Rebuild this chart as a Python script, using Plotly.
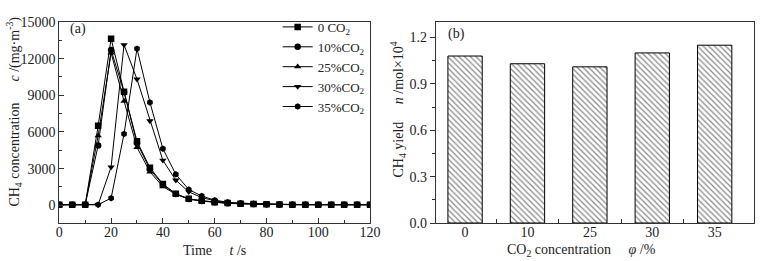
import plotly.graph_objects as go

# ---- data ----
time_s = [0, 5, 10, 15, 20, 25, 30, 35, 40, 45, 50, 55, 60, 65, 70, 75, 80, 85, 90, 95, 100, 105, 110, 115, 120]
c_0 = [50, 50, 50, 6500, 13630, 9300, 5240, 3080, 1740, 950, 530, 370, 250, 180, 130, 100, 80, 60, 50, 50, 50, 50, 50, 50, 50]
c_10 = [50, 50, 50, 4900, 12710, 9250, 5100, 2950, 1680, 920, 520, 360, 240, 170, 130, 100, 80, 60, 50, 50, 50, 50, 50, 50, 50]
c_25 = [50, 50, 50, 5700, 12470, 8530, 4740, 2740, 1530, 900, 500, 340, 220, 160, 120, 100, 80, 60, 50, 50, 50, 50, 50, 50, 50]
c_30 = [50, 50, 50, 50, 3130, 13130, 10320, 6900, 3680, 2050, 1100, 630, 370, 210, 150, 110, 90, 70, 50, 50, 50, 50, 50, 50, 50]
c_35 = [50, 50, 50, 50, 580, 5840, 12820, 8420, 4630, 2530, 1290, 760, 420, 250, 170, 120, 90, 70, 50, 50, 50, 50, 50, 50, 50]
series_names = ["0 CO<sub>2</sub>", "10%CO<sub>2</sub>", "25%CO<sub>2</sub>", "30%CO<sub>2</sub>", "35%CO<sub>2</sub>"]
series_values = [c_0, c_10, c_25, c_30, c_35]
series_symbols = ["square", "circle", "triangle-up", "triangle-down", "hexagon"]

co2_labels = ["0", "10", "25", "30", "35"]
yield_values = [1.08, 1.03, 1.01, 1.10, 1.15]

FONT = "Liberation Serif, Times New Roman, serif"
AX = "#333333"
TXT = "#222222"

fig = go.Figure()
for name, vals, sym in zip(series_names, series_values, series_symbols):
    fig.add_trace(go.Scatter(
        x=time_s, y=vals, name=name, mode="lines+markers",
        line=dict(color="black", width=1),
        marker=dict(symbol=sym, size=6.5, color="black"),
        xaxis="x", yaxis="y"))

fig.add_trace(go.Bar(
    x=list(range(len(co2_labels))), y=yield_values, width=0.55,
    marker=dict(color="white", line=dict(color="black", width=1),
                pattern=dict(shape="\\", fgcolor="#111111", bgcolor="white", size=4, solidity=0.3)),
    showlegend=False, xaxis="x2", yaxis="y2"))

W, H = 777, 261
ml, mr, mt, mb = 59, 12, 15, 38
pw = W - ml - mr
ph = H - mt - mb

def dom(a, b):
    return [(a - ml) / pw, (b - ml) / pw]

common = dict(showline=True, linecolor=AX, linewidth=1, mirror=True, showgrid=False, zeroline=False,
              tickfont=dict(family=FONT, size=14, color=TXT), tickcolor=AX)

fig.update_layout(
    width=W, height=H, margin=dict(l=ml, r=mr, t=mt, b=mb),
    paper_bgcolor="white", plot_bgcolor="white",
    font=dict(family=FONT, size=14, color=TXT),
    xaxis=dict(domain=dom(59.3, 375), range=[0, 120], tickmode="linear", tick0=0, dtick=20,
               ticks="inside", ticklen=5, ticklabelstandoff=-4,
               minor=dict(ticks="inside", ticklen=3, dtick=10, tick0=0, tickcolor=AX),
               **common),
    yaxis=dict(domain=[0, 1], range=[-1450, 15000], tickmode="linear", tick0=0, dtick=3000, tickformat="d",
               ticks="inside", ticklen=5, minor=dict(ticks="inside", ticklen=3, dtick=1500, tick0=0, tickcolor=AX),
               **common),
    xaxis2=dict(domain=dom(441.7, 765), range=[-0.47, 4.63], tickmode="array",
                tickvals=list(range(len(co2_labels))), ticktext=co2_labels, ticks="", ticklabelstandoff=-4,
                minor=dict(ticks="inside", ticklen=4, tickvals=[0.5, 1.5, 2.5, 3.5], tickcolor=AX),
                anchor="y2", **common),
    yaxis2=dict(domain=[0, 1], range=[0, 1.3], tickmode="linear", tick0=0, dtick=0.3, tickformat=".1f",
                ticks="outside", ticklen=5, minor=dict(ticks="outside", ticklen=3, dtick=0.15, tick0=0, tickcolor=AX),
                anchor="x2", **common),
    legend=dict(x=0.447, xanchor="right", y=1.05, yanchor="top", bgcolor="rgba(0,0,0,0)",
                font=dict(family=FONT, size=13, color=TXT), tracegroupgap=0, itemwidth=30),
    showlegend=True,
)

annotations = []
for text, px, py in [("(a)", 68, 22), ("(b)", 452, 27)]:
    annotations.append(dict(text=text, xref="paper", yref="paper",
                            x=(px - ml) / pw, y=1 - (py - mt) / ph,
                            xanchor="left", yanchor="middle", showarrow=False,
                            font=dict(family=FONT, size=14, color=TXT)))
# axis titles
annotations.append(dict(text="Time&nbsp;&nbsp;&nbsp;&nbsp;&nbsp;<i>t</i> /s", xref="paper", yref="paper",
                        x=(217 - ml) / pw, y=-(251 - (H - mb)) / ph, xanchor="center", yanchor="middle",
                        showarrow=False, font=dict(family=FONT, size=14, color=TXT)))
annotations.append(dict(text="CO<sub>2</sub> concentration&nbsp;&nbsp;&nbsp;&nbsp;&nbsp;<i>φ</i> /%", xref="paper", yref="paper",
                        x=(590 - ml) / pw, y=-(251 - (H - mb)) / ph, xanchor="center", yanchor="middle",
                        showarrow=False, font=dict(family=FONT, size=14, color=TXT)))
annotations.append(dict(text="CH<sub>4</sub> concentration&nbsp;&nbsp;&nbsp;&nbsp;&nbsp;&nbsp;<i>c</i> /(mg·m<sup>-3</sup>)",
                        xref="paper", yref="paper", x=(13 - ml) / pw, y=1 - (108 - mt) / ph,
                        xanchor="center", yanchor="middle", textangle=-90, showarrow=False,
                        font=dict(family=FONT, size=14, color=TXT)))
annotations.append(dict(text="CH<sub>4</sub> yield&nbsp;&nbsp;&nbsp;&nbsp;&nbsp;<i>n</i> /mol×10<sup>4</sup>",
                        xref="paper", yref="paper", x=(403 - ml) / pw, y=1 - (106 - mt) / ph,
                        xanchor="center", yanchor="middle", textangle=-90, showarrow=False,
                        font=dict(family=FONT, size=14, color=TXT)))
fig.update_layout(annotations=annotations)

fig.write_html("out.html", config={"displayModeBar": False},
               post_script="document.body.style.margin='0px';")
